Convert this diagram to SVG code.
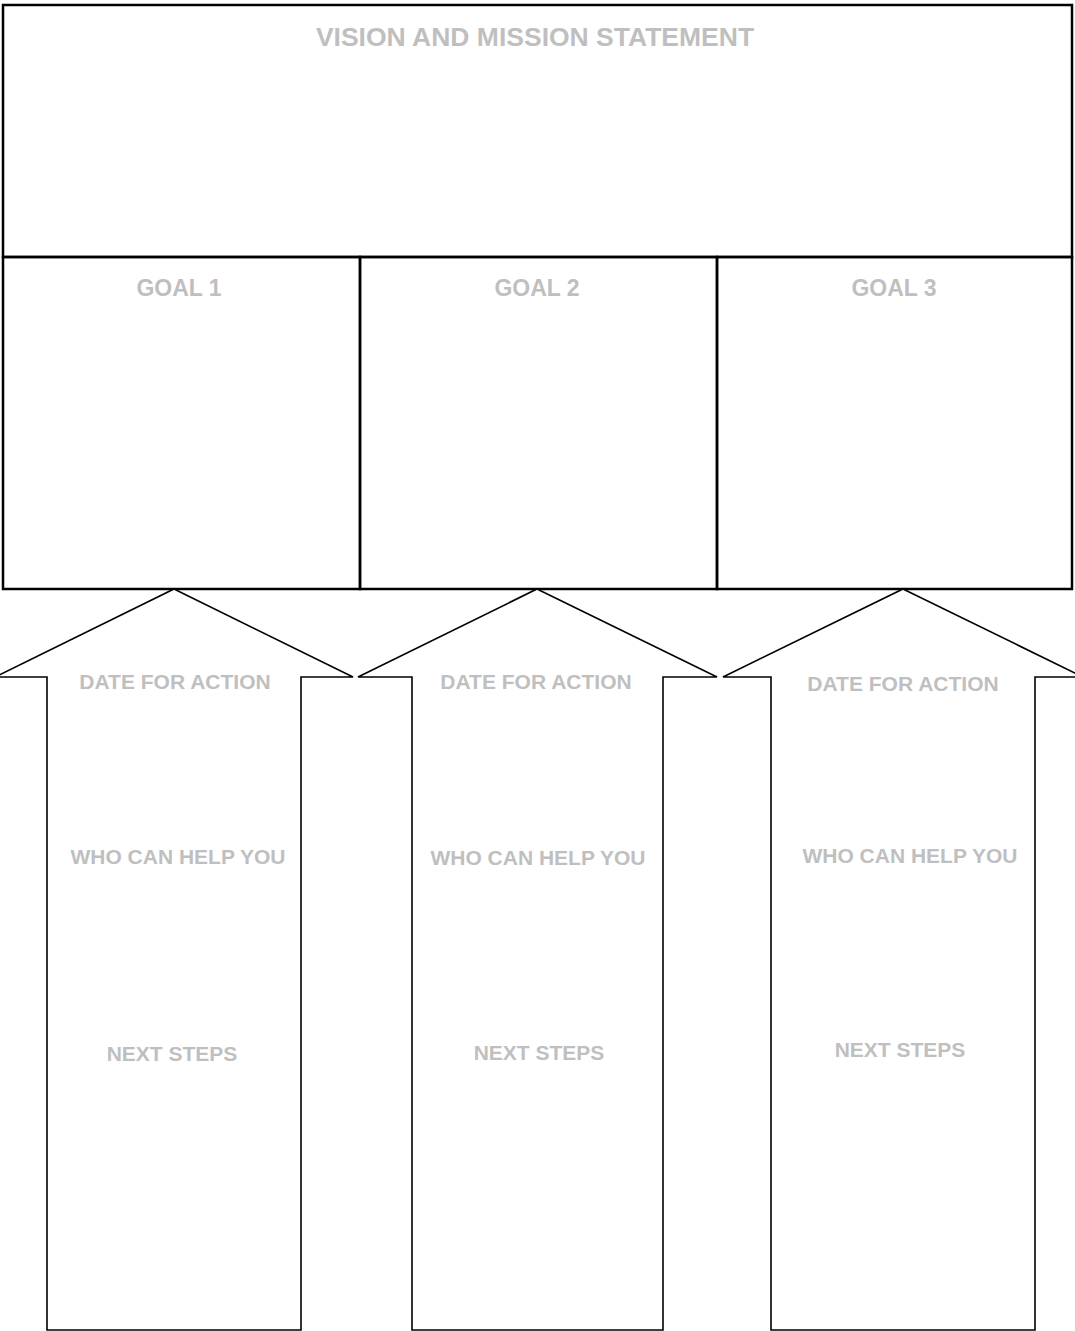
<svg xmlns="http://www.w3.org/2000/svg" width="1075" height="1331" viewBox="0 0 1075 1331">
<style>
.t{font-family:"Liberation Sans",Arial,sans-serif;font-weight:bold;fill:#bfbfbf;text-anchor:middle}
.box{fill:none;stroke:#000;stroke-width:2.5}
.arr{fill:#fff;stroke:#000;stroke-width:1.6;stroke-linejoin:miter}
</style>
<rect width="1075" height="1331" fill="#fff"/>
<g id="vision">
<rect class="box" x="3" y="5" width="1069" height="252"/>
<text class="t" x="535" y="46" font-size="26.5">VISION AND MISSION STATEMENT</text>
</g>
<g id="goal1">
<rect class="box" x="3" y="257" width="357" height="332"/>
<text class="t" x="179" y="296" font-size="23">GOAL 1</text>
</g>
<g id="goal2">
<rect class="box" x="360" y="257" width="357" height="332"/>
<text class="t" x="537" y="296" font-size="23">GOAL 2</text>
</g>
<g id="goal3">
<rect class="box" x="717" y="257" width="355" height="332"/>
<text class="t" x="894" y="296" font-size="23">GOAL 3</text>
</g>
<g id="connectors">
<g id="arrow1">
<polygon class="arr" points="174,589 353,677 301,677 301,1330 47,1330 47,677 -5,677"/>
<text class="t" x="175" y="689" font-size="21">DATE FOR ACTION</text>
<text class="t" x="178" y="864" font-size="21">WHO CAN HELP YOU</text>
<text class="t" x="172" y="1061" font-size="21">NEXT STEPS</text>
</g>
<g id="arrow2">
<polygon class="arr" points="537,589 717,677 663,677 663,1330 412,1330 412,677 358,677"/>
<text class="t" x="536" y="689" font-size="21">DATE FOR ACTION</text>
<text class="t" x="538" y="865" font-size="21">WHO CAN HELP YOU</text>
<text class="t" x="539" y="1060" font-size="21">NEXT STEPS</text>
</g>
<g id="arrow3">
<polygon class="arr" points="903,589 1083,677 1035,677 1035,1330 771,1330 771,677 723,677"/>
<text class="t" x="903" y="691" font-size="21">DATE FOR ACTION</text>
<text class="t" x="910" y="863" font-size="21">WHO CAN HELP YOU</text>
<text class="t" x="900" y="1057" font-size="21">NEXT STEPS</text>
</g>
</g>
</svg>
